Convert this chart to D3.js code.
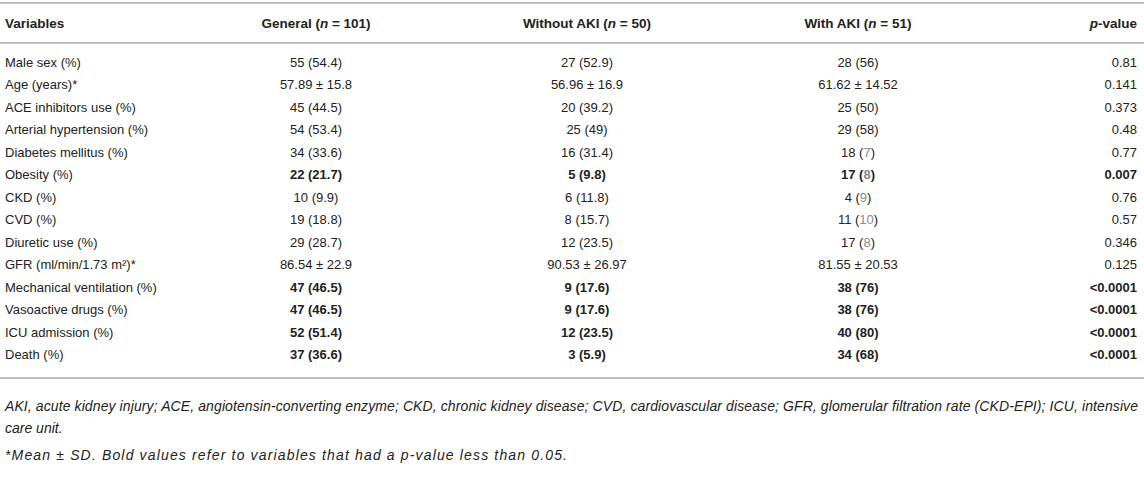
<!DOCTYPE html>
<html>
<head>
<meta charset="utf-8">
<script src="https://cdn.jsdelivr.net/npm/d3@7"></script>
<style>
  body { margin: 0; background: #fff; }
  svg text { font-family: "Liberation Sans", Arial, sans-serif; font-size: 13px; fill: #222; }
</style>
</head>
<body>
<svg id="chart" width="1144" height="498"></svg>
<script>
// header columns
var headers = ["Variables", "General (|n| = 101)", "Without AKI (|n| = 50)", "With AKI (|n| = 51)", "|p|-value"];

var variables = ["Male sex (%)", "Age (years)*", "ACE inhibitors use (%)", "Arterial hypertension (%)",
  "Diabetes mellitus (%)", "Obesity (%)", "CKD (%)", "CVD (%)", "Diuretic use (%)",
  "GFR (ml/min/1.73 m²)*", "Mechanical ventilation (%)", "Vasoactive drugs (%)",
  "ICU admission (%)", "Death (%)"];

// cells; text between ~ ~ is drawn grey
var general = ["55 (54.4)", "57.89 ± 15.8", "45 (44.5)", "54 (53.4)", "34 (33.6)", "22 (21.7)",
  "10 (9.9)", "19 (18.8)", "29 (28.7)", "86.54 ± 22.9", "47 (46.5)", "47 (46.5)", "52 (51.4)", "37 (36.6)"];
var withoutAKI = ["27 (52.9)", "56.96 ± 16.9", "20 (39.2)", "25 (49)", "16 (31.4)", "5 (9.8)",
  "6 (11.8)", "8 (15.7)", "12 (23.5)", "90.53 ± 26.97", "9 (17.6)", "9 (17.6)", "12 (23.5)", "3 (5.9)"];
var withAKI = ["28 (56)", "61.62 ± 14.52", "25 (50)", "29 (58)", "18 (~7~)", "17 (~8~)",
  "4 (~9~)", "11 (~10~)", "17 (~8~)", "81.55 ± 20.53", "38 (76)", "38 (76)", "40 (80)", "34 (68)"];
var pValues = ["0.81", "0.141", "0.373", "0.48", "0.77", "0.007", "0.76", "0.57", "0.346",
  "0.125", "<0.0001", "<0.0001", "<0.0001", "<0.0001"];
var boldRows = [5, 10, 11, 12, 13];

var footnotes = [
  "AKI, acute kidney injury; ACE, angiotensin-converting enzyme; CKD, chronic kidney disease; CVD, cardiovascular disease; GFR, glomerular filtration rate (CKD-EPI); ICU, intensive",
  "care unit.",
  "*Mean ± SD. Bold values refer to variables that had a p-value less than 0.05."
];

var svg = d3.select("#chart");

var y = d3.scaleBand().domain(d3.range(variables.length)).range([51, 366]);
var colX = [5, 316, 587, 858, 1137];
var anchors = ["start", "middle", "middle", "middle", "end"];

function rule(yy) {
  svg.append("line").attr("x1", 0).attr("x2", 1144).attr("y1", yy).attr("y2", yy)
    .attr("stroke", "#a8a8a8").attr("stroke-width", 1.5);
}
rule(3); rule(43); rule(378);

// draw a string; |x| italic, ~x~ grey
function addText(sel, str) {
  var re = /(\|[^|]*\||~[^~]*~)/;
  str.split(re).forEach(function(part) {
    if (!part) return;
    var t = sel.append("tspan");
    if (part[0] === "|") t.text(part.slice(1, -1)).style("font-style", "italic");
    else if (part[0] === "~") t.text(part.slice(1, -1)).style("fill", "#8a8a8a");
    else t.text(part);
  });
}

headers.forEach(function(h, i) {
  var t = svg.append("text").attr("x", colX[i]).attr("y", 23).attr("dy", "0.35em")
    .attr("text-anchor", anchors[i]).style("font-weight", "bold").style("font-size", "13.5px");
  addText(t, h);
});

var cols = [variables, general, withoutAKI, withAKI, pValues];
variables.forEach(function(v, r) {
  var yy = y(r) + y.bandwidth() / 2;
  cols.forEach(function(col, c) {
    var t = svg.append("text").attr("x", colX[c]).attr("y", yy).attr("dy", "0.35em")
      .attr("text-anchor", anchors[c]);
    if (c > 0 && boldRows.indexOf(r) >= 0) t.style("font-weight", "bold");
    addText(t, col[r]);
  });
});

var fy = [406, 428, 455];
var fw = [1133, null, 562];
footnotes.forEach(function(f, i) {
  var t = svg.append("text").attr("x", 5).attr("y", fy[i]).attr("dy", "0.35em")
    .style("font-style", "italic").style("font-size", "14px").text(f);
  if (fw[i]) t.attr("textLength", fw[i]).attr("lengthAdjust", "spacing");
});
</script>
</body>
</html>
